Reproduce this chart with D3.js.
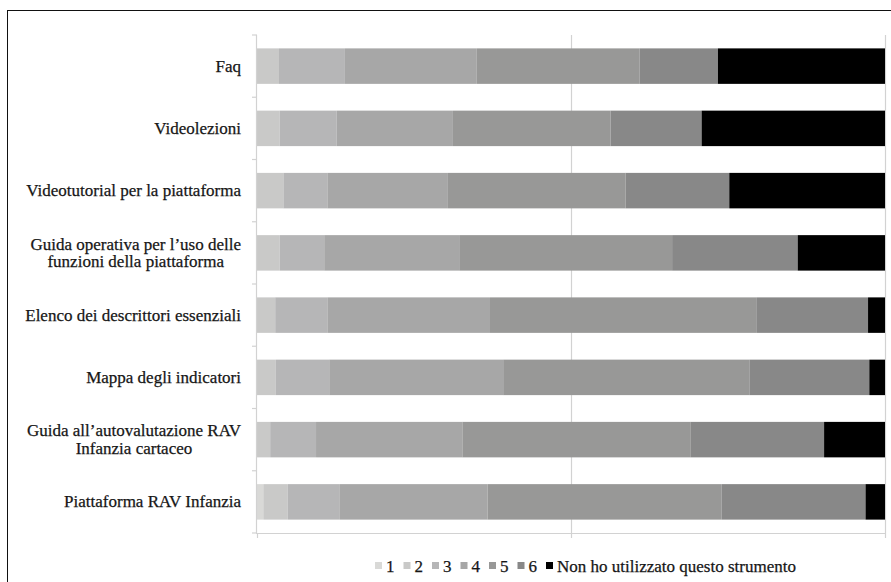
<!DOCTYPE html>
<html>
<head>
<meta charset="utf-8">
<script src="https://cdn.jsdelivr.net/npm/d3@7"></script>
<style>
  html, body { margin: 0; padding: 0; background: #fff; }
  svg { display: block; }
  text { font-family: "Liberation Serif", "Times New Roman", serif; fill: #161616; stroke: #161616; stroke-width: 0.25; }
</style>
</head>
<body>
<svg id="chart" width="891" height="582"></svg>
<script>
// Tools evaluated, top to bottom (labels may wrap on "\n")
const categories = [
  "Faq",
  "Videolezioni",
  "Videotutorial per la piattaforma",
  "Guida operativa per l\u2019uso delle\nfunzioni della piattaforma",
  "Elenco dei descrittori essenziali",
  "Mappa degli indicatori",
  "Guida all\u2019autovalutazione RAV\nInfanzia cartaceo",
  "Piattaforma RAV Infanzia"
];

// Rating levels (legend order)
const levels = ["1", "2", "3", "4", "5", "6", "Non ho utilizzato questo strumento"];

// Share of answers per level (%), one value per tool
const v1   = [0,    0,    0,    0,    0,    0,    0,    1.0];
const v2   = [3.5,  3.6,  4.2,  3.6,  2.9,  3.0,  2.1,  3.9];
const v3   = [10.5, 9.1,  7.0,  7.1,  8.3,  8.5,  7.3,  8.3];
const v4   = [21.0, 18.5, 19.2, 21.5, 25.9, 27.7, 23.3, 23.5];
const v5   = [25.9, 25.1, 28.3, 33.9, 42.4, 39.2, 36.3, 37.3];
const v6   = [12.5, 14.5, 16.5, 20.0, 17.8, 19.1, 21.3, 22.9];
const vNon = [26.6, 29.2, 24.8, 13.9, 2.7,  2.5,  9.7,  3.1];

const xTicks = [0, 50, 100];

const colors = ["#d9d9d7", "#c9c9c8", "#b6b6b7", "#a7a7a7", "#989897", "#888888", "#000000"];

const seriesValues = [v1, v2, v3, v4, v5, v6, vNon];
const rows = categories.map((c, i) => {
  const r = { cat: c };
  levels.forEach((l, k) => { r[l] = seriesValues[k][i]; });
  return r;
});

const svg = d3.select("#chart");

// outer frame
svg.append("rect")
  .attr("x", 7.5).attr("y", 10.5)
  .attr("width", 900).attr("height", 600)
  .attr("fill", "none").attr("stroke", "#111").attr("stroke-width", 1);

const plot = { left: 257, right: 885, top: 35, bottom: 533 };

const x = d3.scaleLinear().domain([0, 100]).range([plot.left, plot.right]);
const y = d3.scaleBand().domain(categories)
  .range([plot.top, plot.bottom])
  .paddingInner(0.43).paddingOuter(0.215);

const grid = "#d2d2d2";

// vertical gridlines
svg.append("g").selectAll("line")
  .data(xTicks.filter(t => t > 0))
  .join("line")
  .attr("x1", d => x(d) + 0.5).attr("x2", d => x(d) + 0.5)
  .attr("y1", plot.top).attr("y2", plot.bottom)
  .attr("stroke", grid).attr("stroke-width", 1.2);

// stacked bars
const stack = d3.stack().keys(levels);
const stacked = stack(rows);

svg.append("g").selectAll("g")
  .data(stacked)
  .join("g")
  .attr("fill", (d, i) => colors[i])
  .selectAll("rect")
  .data(d => d)
  .join("rect")
  .attr("x", d => x(d[0]))
  .attr("width", d => Math.max(0, x(d[1]) - x(d[0])))
  .attr("y", d => y(d.data.cat))
  .attr("height", y.bandwidth());

// left axis with ticks at band boundaries
const step = y.step();
const bounds = categories.map(c => y(c) - y.paddingInner() * step / 2);
bounds.push(plot.bottom);
bounds[0] = plot.top;

const yAxis = svg.append("g");
yAxis.append("line")
  .attr("x1", plot.left - 0.5).attr("x2", plot.left - 0.5)
  .attr("y1", plot.top).attr("y2", plot.bottom)
  .attr("stroke", grid).attr("stroke-width", 1.2);
yAxis.selectAll("line.tick")
  .data(bounds)
  .join("line")
  .attr("class", "tick")
  .attr("x1", plot.left - 5).attr("x2", plot.left)
  .attr("y1", d => d).attr("y2", d => d)
  .attr("stroke", grid).attr("stroke-width", 1.2);

// bottom axis
const xAxis = svg.append("g");
xAxis.append("line")
  .attr("x1", plot.left - 1).attr("x2", plot.right + 1)
  .attr("y1", plot.bottom + 0.5).attr("y2", plot.bottom + 0.5)
  .attr("stroke", grid).attr("stroke-width", 1.2);
xAxis.selectAll("line.tick")
  .data(xTicks)
  .join("line")
  .attr("class", "tick")
  .attr("x1", d => x(d) + 0.5).attr("x2", d => x(d) + 0.5)
  .attr("y1", plot.bottom).attr("y2", plot.bottom + 5)
  .attr("stroke", grid).attr("stroke-width", 1.2);

// category labels (right-aligned block, lines centred within it)
const labelRight = 241;
const lineH = 17.5;
const fontSize = 17;
categories.forEach(c => {
  const lines = c.split("\n");
  const cy = y(c) + y.bandwidth() / 2;
  const g = svg.append("g");
  const texts = lines.map((ln, i) => g.append("text")
    .attr("y", cy + (i - (lines.length - 1) / 2) * lineH)
    .attr("dy", "0.33em")
    .attr("font-size", fontSize)
    .text(ln));
  const widths = texts.map(t => t.node().getComputedTextLength());
  const maxW = Math.max(...widths);
  texts.forEach(t => t.attr("x", labelRight - maxW / 2).attr("text-anchor", "middle"));
});

// legend
const legend = svg.append("g");
let lx = 375;
const ly = 566;
levels.forEach((l, i) => {
  legend.append("rect")
    .attr("x", lx).attr("y", ly - 4)
    .attr("width", 7).attr("height", 7)
    .attr("fill", colors[i]);
  const t = legend.append("text")
    .attr("x", lx + 11).attr("y", ly).attr("dy", "0.33em")
    .attr("font-size", fontSize)
    .text(l);
  lx += 11 + t.node().getComputedTextLength() + 9;
});
</script>
</body>
</html>
